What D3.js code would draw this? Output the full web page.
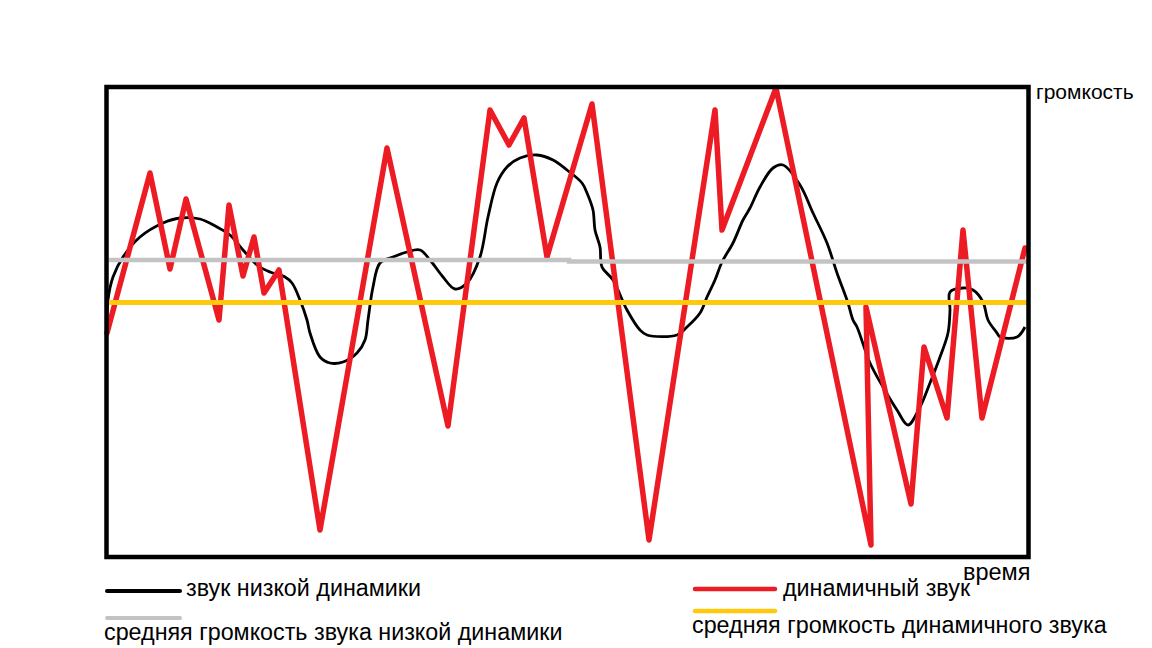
<!DOCTYPE html>
<html>
<head>
<meta charset="utf-8">
<script src="https://cdn.jsdelivr.net/npm/d3@7"></script>
<style>
    body { margin: 0; background: #fff; }
    text { font-family: "Liberation Sans", Arial, sans-serif; fill: #000; }
</style>
</head>
<body>
<script>
(function(){

    // time (t) and volume (v) in arbitrary units
    var lowDynTime = [0, 1, 6, 16, 33, 56, 73, 93, 110, 123, 136, 150, 163, 178, 185, 193, 200, 203, 213, 223,
        236, 250, 258, 261, 266, 273, 286, 300, 313, 323, 336, 348, 360, 373, 381, 390, 400, 413, 430, 446,
        460, 475, 480, 486, 488, 493, 495, 506, 520, 533, 540, 570, 580, 593, 600, 608, 615, 626, 636, 643,
        653, 666, 676, 693, 706, 720, 730, 741, 746, 750, 763, 776, 790, 801, 813, 823, 833, 841, 843, 843,
        856, 866, 876, 881, 890, 893, 910, 918];
    var lowDynVolume = [222, 257, 280, 300, 320, 334, 339, 338, 330, 322, 307, 292, 285, 280, 274, 257, 237, 224, 200, 194,
        195, 204, 217, 237, 270, 294, 300, 305, 307, 297, 280, 268, 274, 300, 340, 374, 390, 399, 402, 397,
        387, 374, 364, 347, 327, 310, 290, 277, 247, 227, 222, 222, 230, 244, 260, 277, 295, 314, 337, 349,
        370, 389, 392, 372, 344, 314, 284, 254, 237, 230, 194, 170, 147, 132, 150, 174, 200, 224, 247, 265,
        269, 267, 255, 237, 224, 220, 220, 230];

    var dynTime = [0, 43, 63, 79, 112, 122, 136, 147, 157, 172, 213, 280, 341, 383, 402, 417, 440, 485, 542,
        608, 615, 669, 764, 759, 804, 817, 840, 856, 875, 918];
    var dynVolume = [224, 384, 288, 358, 237, 352, 281, 320, 264, 287, 27, 409, 131, 447, 412, 439, 300, 453, 17,
        447, 327, 469, 12, 250, 53, 210, 139, 327, 139, 309];

    // average lines (the hand drawn grey one has a small step)
    var lowDynMeanTime = [2, 462, 462, 920];
    var lowDynMeanVolume = [297, 297, 295.5, 295.5];
    var dynMeanTime = [2, 920];
    var dynMeanVolume = [254.5, 254.5];

    var legendItems = [
        {label: "звук низкой динамики", color: "#000000"},
        {label: "средняя громкость звука низкой динамики", color: "#c3c3c3"},
        {label: "динамичный звук", color: "#ed1c24"},
        {label: "средняя громкость динамичного звука", color: "#ffc90e"}
    ];

    window.onload = drawChart;

    function zip(ts, vs){
        return ts.map((t, i) => ({t: t, v: vs[i]}));
    }

    function drawChart(){
        var width = 1152,
            height = 648;

        var svg = d3.select("body")
            .append("svg")
            .attr("width", width)
            .attr("height", height);

        var x = d3.scaleLinear().domain([0, 920]).range([107, 1027]);
        var y = d3.scaleLinear().domain([0, 470]).range([557, 87]);

        var line = d3.line()
            .x(d => x(d.t))
            .y(d => y(d.v));

        // black curve
        svg.append("path")
            .datum(zip(lowDynTime, lowDynVolume))
            .attr("d", line.curve(d3.curveCatmullRom))
            .attr("fill", "none")
            .attr("stroke", legendItems[0].color)
            .attr("stroke-width", 2.8)
            .attr("stroke-linejoin", "round");

        // red zigzag
        svg.append("path")
            .datum(zip(dynTime, dynVolume))
            .attr("d", line.curve(d3.curveLinear))
            .attr("fill", "none")
            .attr("stroke", legendItems[2].color)
            .attr("stroke-width", 5.5)
            .attr("stroke-linejoin", "round")
            .attr("stroke-linecap", "round");

        svg.append("path")
            .datum(zip(lowDynMeanTime, lowDynMeanVolume))
            .attr("d", line)
            .attr("fill", "none")
            .attr("stroke", legendItems[1].color)
            .attr("stroke-width", 4.5);

        svg.append("path")
            .datum(zip(dynMeanTime, dynMeanVolume))
            .attr("d", line)
            .attr("fill", "none")
            .attr("stroke", legendItems[3].color)
            .attr("stroke-width", 5);

        // frame
        svg.append("rect")
            .attr("x", 106.5)
            .attr("y", 87)
            .attr("width", 922)
            .attr("height", 470)
            .attr("fill", "none")
            .attr("stroke", "#000")
            .attr("stroke-width", 4.5);

        svg.append("text")
            .attr("x", 1036)
            .attr("y", 99)
            .style("font-size", "21px")
            .text("громкость");

        svg.append("text")
            .attr("x", 963)
            .attr("y", 580)
            .style("font-size", "23.5px")
            .text("время");

        drawLegend(svg);
    }

    function drawLegend(svg){
        var pos = [
            {x1: 107, x2: 180, ly: 591, tx: 186, ty: 596, sw: 4},
            {x1: 107, x2: 180, ly: 618, tx: 104, ty: 640, sw: 4},
            {x1: 695, x2: 775, ly: 589, tx: 783, ty: 596, sw: 4.5},
            {x1: 695, x2: 775, ly: 611, tx: 692, ty: 633, sw: 4.5}
        ];

        var g = svg.append("g").attr("class", "legend");

        legendItems.forEach((item, i) => {
            var p = pos[i];
            g.append("line")
                .attr("x1", p.x1).attr("x2", p.x2)
                .attr("y1", p.ly).attr("y2", p.ly)
                .attr("stroke", item.color)
                .attr("stroke-width", p.sw)
                .attr("stroke-linecap", "round");
            g.append("text")
                .attr("x", p.tx)
                .attr("y", p.ty)
                .style("font-size", "23.3px")
                .text(item.label);
        });
    }

})();
</script>
</body>
</html>
